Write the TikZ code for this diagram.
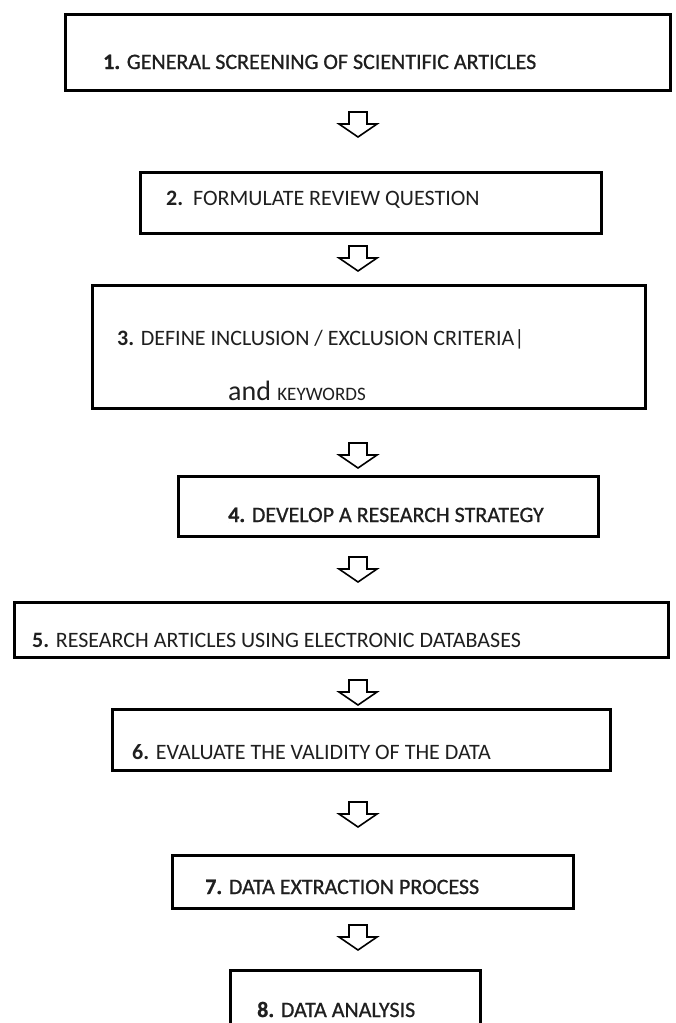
\documentclass[tikz,border=0pt]{standalone}
\usepackage{fontspec}
\setmainfont{Carlito}
\newfontfamily\heavyfont[FakeBold=0.8]{Carlito}
\begin{document}
\begin{tikzpicture}[x=1pt,y=-1pt,
  box/.style={draw=black, line width=3pt, fill=white, anchor=north west, inner sep=0pt, outer sep=0pt},
  lbl/.style={anchor=base west, inner sep=0pt, text=black!88, font=\fontsize{22}{26}\selectfont},
  hlbl/.style={lbl, font=\fontsize{22}{26}\heavyfont},
  blk/.style={draw=black, line width=1.6pt, fill=white, line join=miter}
]
\useasboundingbox (0,0) rectangle (676,1023);
\fill[white] (0,0) rectangle (676,1023);

% boxes
\node[box, minimum width=605pt, minimum height=76pt] (b1) at (65,14) {};
\node[box, minimum width=461pt, minimum height=61pt] (b2) at (140,172) {};
\node[box, minimum width=553pt, minimum height=123pt] (b3) at (92,285) {};
\node[box, minimum width=420pt, minimum height=60pt] (b4) at (178,476) {};
\node[box, minimum width=654pt, minimum height=55pt] (b5) at (14,602) {};
\node[box, minimum width=498pt, minimum height=61pt] (b6) at (112,709) {};
\node[box, minimum width=401pt, minimum height=53pt] (b7) at (172,855) {};
\draw[line width=3pt] (230,1023) -- (230,970) -- (480,970) -- (480,1023);
\coordinate (b8) at (230,970);

% texts
\node[hlbl] (t1) at (103,69) {\textbf{1.} GENERAL SCREENING OF SCIENTIFIC ARTICLES};
\node[lbl] (t2) at (166,205) {\textbf{2.}\ \ FORMULATE REVIEW QUESTION};
\node[lbl] (t3) at (117,345) {\textbf{3.} DEFINE INCLUSION / EXCLUSION CRITERIA\textbar};
\node[anchor=base west, inner sep=0pt, text=black!88] (t3b) at (228,400) {\fontsize{28}{30}\selectfont and \fontsize{19}{22}\selectfont KEYWORDS};
\node[hlbl] (t4) at (228,522) {\textbf{4.} DEVELOP A RESEARCH STRATEGY};
\node[lbl] (t5) at (32,647) {\textbf{5.} RESEARCH ARTICLES USING ELECTRONIC DATABASES};
\node[lbl] (t6) at (132,759) {\textbf{6.} EVALUATE THE VALIDITY OF THE DATA};
\node[hlbl] (t7) at (205,894) {\textbf{7.} DATA EXTRACTION PROCESS};
\node[hlbl] (t8) at (257,1017) {\textbf{8.} DATA ANALYSIS};

% block arrows
\foreach \n/\y in {1/112, 2/246, 3/443, 4/557, 5/680, 6/802, 7/925} {
  \coordinate (a\n) at (358,\y);
  \draw[blk] (a\n) ++(-9,0) -- ++(18,0) -- ++(0,12) -- ++(10,0) -- ++(-19,13) -- ++(-19,-13) -- ++(10,0) -- cycle;
}
\end{tikzpicture}
\end{document}
